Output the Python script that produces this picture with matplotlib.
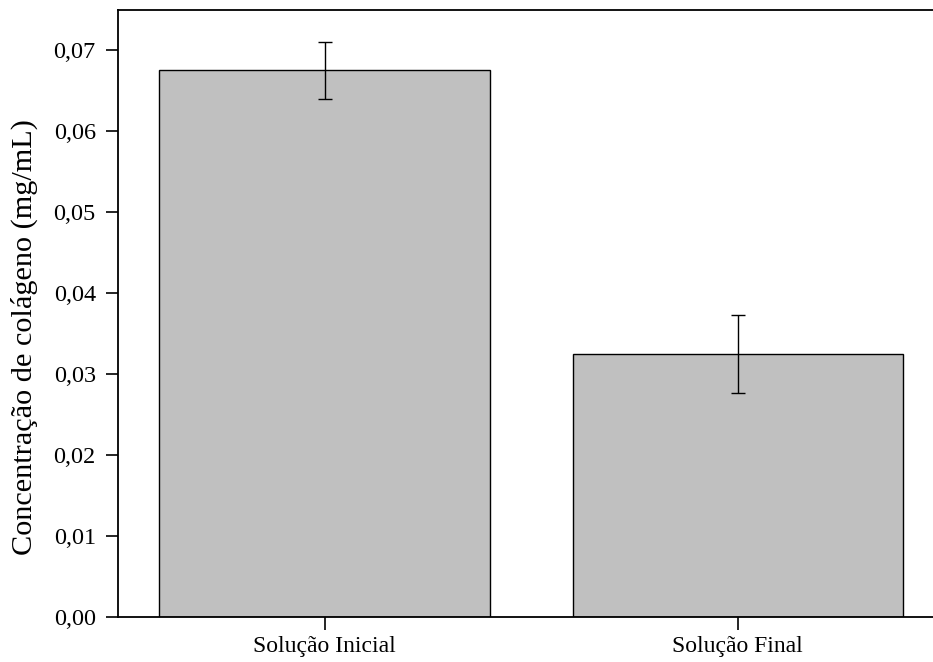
import matplotlib
matplotlib.use("Agg")
import matplotlib.pyplot as plt
from matplotlib.ticker import FuncFormatter, MultipleLocator

categories = ["Solução Inicial", "Solução Final"]
means = [0.0675, 0.0325]
errors = [0.0035, 0.0048]

plt.rcParams["font.family"] = ["Liberation Serif", "DejaVu Serif"]

fig = plt.figure(figsize=(9.33, 6.62), dpi=100)
ax = fig.add_axes([118 / 933, 45 / 662, 826.5 / 933, 607.5 / 662])

x = list(range(len(categories)))
ax.bar(x, means, width=0.8, color="#c0c0c0", edgecolor="black", linewidth=1.0, zorder=2)
ax.errorbar(x, means, yerr=errors, fmt="none", ecolor="black", elinewidth=1.0,
            capsize=4.7, capthick=1.0, zorder=3)

ax.set_xlim(-0.5, 1.5)
ax.set_ylim(0, 0.075)
ax.set_xticks(x)
ax.set_xticklabels(categories, fontsize=17)
ax.yaxis.set_major_locator(MultipleLocator(0.01))
ax.yaxis.set_major_formatter(FuncFormatter(lambda v, p: f"{v:.2f}".replace(".", ",")))
ax.tick_params(axis="y", labelsize=17.5, direction="out", length=9, width=1.2, pad=7)
ax.tick_params(axis="x", direction="out", length=9, width=1.2, pad=5)

fig.text(24 / 933, 1 - 337 / 662, "Concentração de colágeno (mg/mL)", rotation=90,
         fontsize=21.8, ha="center", va="center")

for side in ["left", "bottom", "top", "right"]:
    ax.spines[side].set_linewidth(1.3)

fig.savefig("out.png", dpi=100)
